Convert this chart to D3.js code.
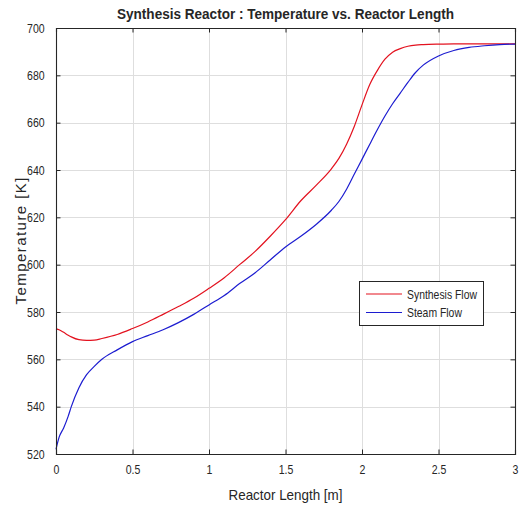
<!DOCTYPE html>
<html>
<head>
<meta charset="utf-8">
<script src="https://cdn.jsdelivr.net/npm/d3@7"></script>
<style>
  html, body { margin: 0; padding: 0; background: #fff; }
  svg { display: block; }
  text { font-family: "Liberation Sans", Arial, sans-serif; fill: #262626; }
</style>
</head>
<body>
<div id="chart"></div>
<script>
// Reactor length positions [m]
const lengthPts = [0, 0.02, 0.05, 0.08, 0.1, 0.15, 0.2, 0.25, 0.3, 0.4, 0.5, 0.6, 0.7, 0.8, 0.9,
  1.0, 1.1, 1.2, 1.3, 1.4, 1.5, 1.6, 1.7, 1.8, 1.85, 1.9, 1.95, 2.0, 2.05, 2.1, 2.15, 2.2,
  2.25, 2.3, 2.35, 2.4, 2.5, 2.6, 2.7, 2.8, 2.9, 3.0];

// Synthesis gas temperature [K]
const synthesisFlow = [573, 572.5, 571.4, 570.2, 569.5, 568.3, 568, 568.1, 568.8, 570.5, 573, 575.8, 579, 582.3, 585.8,
  590, 594.5, 600, 605.5, 612, 619, 627, 633.5, 640.5, 645, 651, 658.5, 667.5, 676, 682, 686.8, 689.8,
  691.3, 692.3, 692.8, 693, 693.2, 693.3, 693.3, 693.3, 693.3, 693.3];

// Steam temperature [K]
const steamFlow = [522, 527, 531, 536, 540, 548, 553.5, 557, 560, 564, 567.5, 570, 572.5, 575.5, 579,
  583, 587, 592, 596.5, 602, 607.5, 612, 617, 623, 626.8, 632, 638.3, 644.5, 650.8, 657, 662.8, 668,
  672.5, 677, 681.2, 684.3, 688.2, 690.5, 691.8, 692.5, 693, 693.2];

const xTicks = [0, 0.5, 1, 1.5, 2, 2.5, 3];
const xTickLabels = ["0", "0.5", "1", "1.5", "2", "2.5", "3"];
const yTicks = [520, 540, 560, 580, 600, 620, 640, 660, 680, 700];
const yTickLabels = ["520", "540", "560", "580", "600", "620", "640", "660", "680", "700"];

const seriesNames = ["Synthesis Flow", "Steam Flow"];
const seriesColors = ["#e3121f", "#1c1cd0"];

const W = 522, H = 508;
const margin = { left: 56, right: 7, top: 28, bottom: 54 };
const x = d3.scaleLinear().domain([0, 3]).range([margin.left, W - margin.right]);
const y = d3.scaleLinear().domain([520, 700]).range([H - margin.bottom, margin.top]);

const svg = d3.select("#chart").append("svg").attr("width", W).attr("height", H);

// condense text horizontally to the given width factor
function squeeze(sel, factor) {
  sel.each(function () {
    const w = this.getComputedTextLength();
    d3.select(this).attr("textLength", w * factor).attr("lengthAdjust", "spacingAndGlyphs");
  });
}

// grid
const grid = svg.append("g").attr("stroke", "#dedede").attr("stroke-width", 1);
grid.selectAll("line.gx").data(xTicks.slice(1, -1)).join("line")
  .attr("x1", d => Math.round(x(d)) + 0.5).attr("x2", d => Math.round(x(d)) + 0.5)
  .attr("y1", y(700)).attr("y2", y(520));
grid.selectAll("line.gy").data(yTicks.slice(1, -1)).join("line")
  .attr("y1", d => Math.round(y(d)) + 0.5).attr("y2", d => Math.round(y(d)) + 0.5)
  .attr("x1", x(0)).attr("x2", x(3));

// curves
const line = d3.line().x(d => x(d[0])).y(d => y(d[1])).curve(d3.curveMonotoneX);
[synthesisFlow, steamFlow].forEach((vals, i) => {
  svg.append("path")
    .datum(lengthPts.map((L, j) => [L, vals[j]]))
    .attr("fill", "none")
    .attr("stroke", seriesColors[i])
    .attr("stroke-width", 1.2)
    .attr("d", line);
});

// axes with inward ticks on all four sides
const tickLen = 4.5;
const xAxisB = d3.axisBottom(x).tickValues(xTicks).tickSize(-tickLen).tickFormat((d, i) => xTickLabels[i]).tickPadding(10);
const xAxisT = d3.axisTop(x).tickValues(xTicks).tickSize(-tickLen).tickFormat("");
const yAxisL = d3.axisLeft(y).tickValues(yTicks).tickSize(-tickLen).tickFormat((d, i) => yTickLabels[i]).tickPadding(10);
const yAxisR = d3.axisRight(y).tickValues(yTicks).tickSize(-tickLen).tickFormat("");

function styleAxis(g) {
  g.selectAll("path.domain").attr("stroke", "#262626").attr("stroke-width", 1.1);
  g.selectAll(".tick line").attr("stroke", "#262626").attr("stroke-width", 1);
  g.selectAll(".tick text").attr("fill", "#2b2b2b")
    .style("font-family", "'Liberation Sans', Arial, sans-serif").style("font-size", "13.5px");
}
const gB = svg.append("g").attr("transform", `translate(0,${y(520)})`).call(xAxisB).call(styleAxis);
const gT = svg.append("g").attr("transform", `translate(0,${y(700)})`).call(xAxisT).call(styleAxis);
const gL = svg.append("g").attr("transform", `translate(${x(0)},0)`).call(yAxisL).call(styleAxis);
const gR = svg.append("g").attr("transform", `translate(${x(3)},0)`).call(yAxisR).call(styleAxis);
gB.selectAll(".tick text").attr("dy", "0.72em").call(squeeze, 0.78);
gL.selectAll(".tick text").attr("dx", "-0.1em").call(squeeze, 0.78);

// title and axis labels
svg.append("text")
  .attr("x", (x(0) + x(3)) / 2).attr("y", 19)
  .attr("text-anchor", "middle")
  .style("font-size", "14px").style("font-weight", "bold").attr("fill", "#1a1a1a")
  .attr("textLength", 337).attr("lengthAdjust", "spacingAndGlyphs")
  .text("Synthesis Reactor : Temperature vs. Reactor Length");

svg.append("text")
  .attr("x", (x(0) + x(3)) / 2).attr("y", 500)
  .attr("text-anchor", "middle")
  .style("font-size", "14.5px").attr("fill", "#333")
  .attr("textLength", 114).attr("lengthAdjust", "spacingAndGlyphs")
  .text("Reactor Length [m]");

svg.append("text")
  .attr("transform", `translate(26,${(y(520) + y(700)) / 2}) rotate(-90)`)
  .attr("text-anchor", "middle")
  .style("font-size", "15px").attr("fill", "#333")
  .attr("textLength", 127).attr("lengthAdjust", "spacing")
  .text("Temperature [K]");

// legend
const leg = svg.append("g");
leg.append("rect")
  .attr("x", 359.5).attr("y", 281.5).attr("width", 124).attr("height", 44)
  .attr("fill", "#fff").attr("stroke", "#262626").attr("stroke-width", 1);
seriesNames.forEach((name, i) => {
  const yy = 294 + i * 18.5;
  leg.append("line")
    .attr("x1", 366).attr("x2", 402).attr("y1", yy).attr("y2", yy)
    .attr("stroke", seriesColors[i]).attr("stroke-width", 1.2);
  leg.append("text")
    .attr("x", 407).attr("y", yy + 4.5)
    .style("font-size", "13px")
    .text(name)
    .call(squeeze, 0.8);
});
</script>
</body>
</html>
